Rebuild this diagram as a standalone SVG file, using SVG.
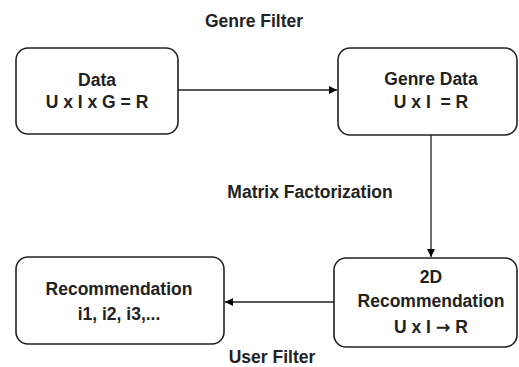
<svg xmlns="http://www.w3.org/2000/svg" width="519" height="367" viewBox="0 0 519 367">
<defs>
<marker id="arr" viewBox="0 0 10 10" refX="10" refY="5" markerWidth="8" markerHeight="8" markerUnits="userSpaceOnUse" orient="auto">
<path d="M0,0 L10,5 L0,10 z" fill="#000"/>
</marker>
</defs>
<style>
.box{fill:#fff;stroke:#222;stroke-width:1.6}
.t{font-family:"Liberation Sans",Arial,sans-serif;font-weight:bold;font-size:17.5px;fill:#222;text-anchor:middle}
.ln{stroke:#222;stroke-width:1.3;fill:none}
.ar{font-family:"DejaVu Sans",sans-serif;font-weight:bold}
</style>
<rect width="519" height="367" fill="#fff"/>
<g id="connectors">
<line class="ln" x1="178" y1="90" x2="337" y2="90" marker-end="url(#arr)"/>
<line class="ln" x1="431" y1="135" x2="431" y2="257" marker-end="url(#arr)"/>
<line class="ln" x1="334" y1="302" x2="225" y2="302" marker-end="url(#arr)"/>
</g>
<g id="labels">
<text class="t" x="254" y="27">Genre Filter</text>
<text class="t" x="310" y="198">Matrix Factorization</text>
<text class="t" x="272" y="363">User Filter</text>
</g>
<g id="data">
<rect class="box" x="16" y="48" width="162" height="86" rx="12"/>
<text class="t" x="97" y="86">Data</text>
<text class="t" x="97" y="108">U x I x G = R</text>
</g>
<g id="genre-data">
<rect class="box" x="338" y="48" width="179" height="87" rx="12"/>
<text class="t" x="431" y="85">Genre Data</text>
<text class="t" x="431" y="108" style="white-space:pre">U x I  = R</text>
</g>
<g id="recommendation-2d">
<rect class="box" x="334" y="258" width="183" height="89" rx="12"/>
<text class="t" x="431" y="283">2D</text>
<text class="t" x="431" y="307">Recommendation</text>
<text class="t" x="431" y="333">U x I <tspan class="ar">→</tspan> R</text>
</g>
<g id="recommendation">
<rect class="box" x="16" y="257" width="208" height="87" rx="12"/>
<text class="t" x="119" y="295">Recommendation</text>
<text class="t" x="119" y="320">i1, i2, i3,...</text>
</g>
</svg>
